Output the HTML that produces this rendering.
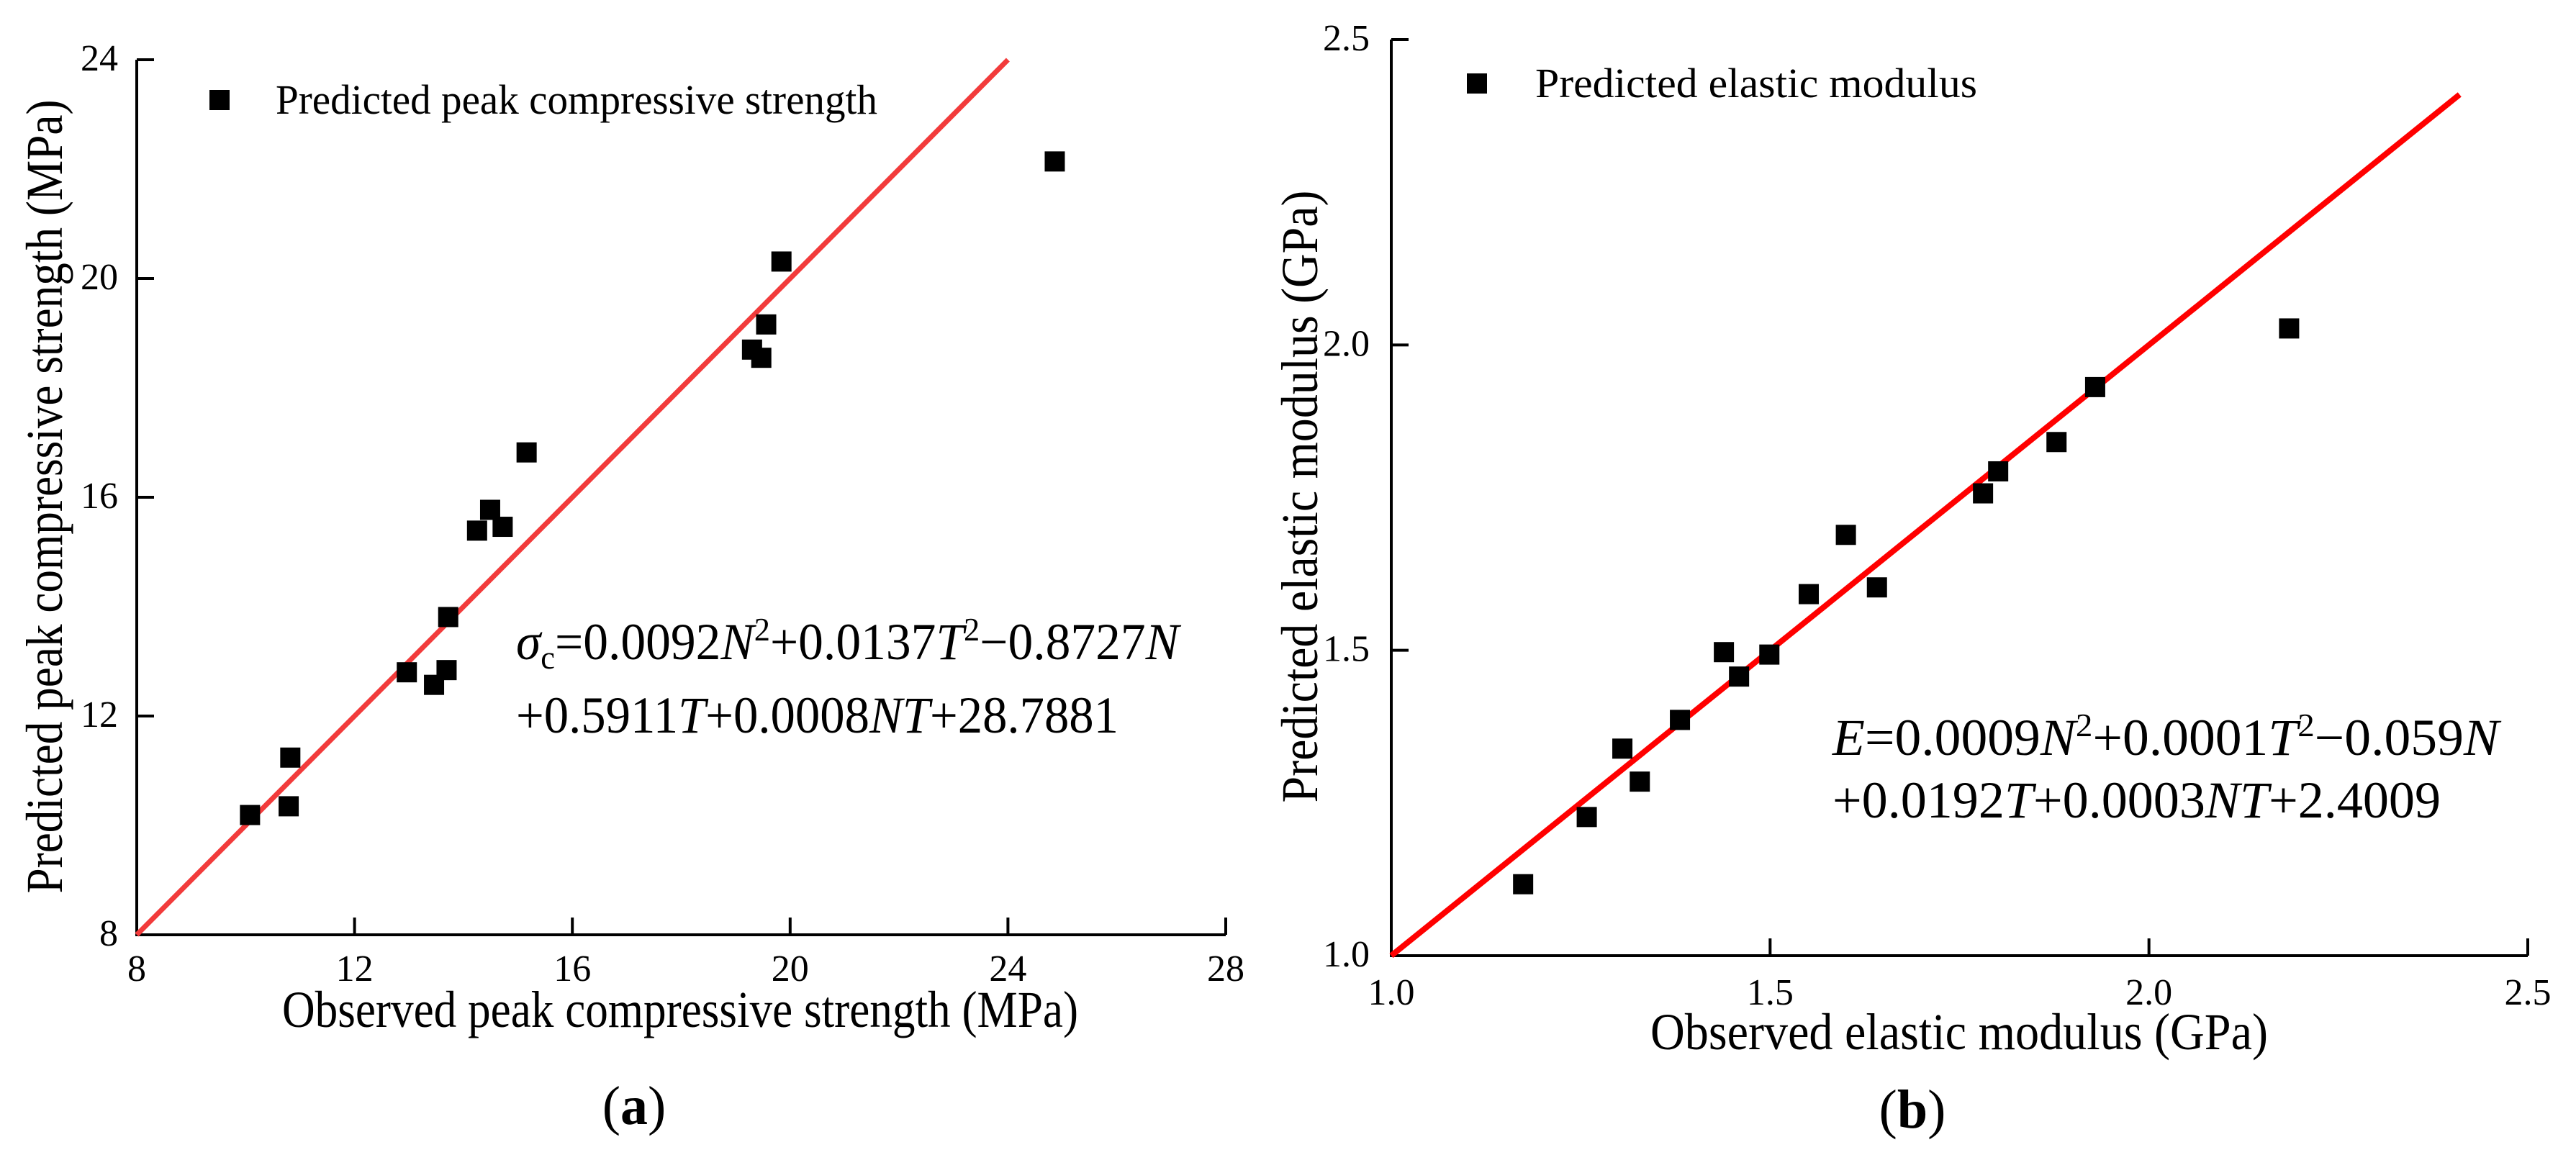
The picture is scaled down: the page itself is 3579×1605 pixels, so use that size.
<!DOCTYPE html>
<html><head><meta charset="utf-8"><style>
html,body{margin:0;padding:0;background:#fff;}
svg{display:block;font-family:"Liberation Serif",serif;}
</style></head><body>
<svg id="fig" width="3579" height="1605" viewBox="0 0 3579 1605" xmlns="http://www.w3.org/2000/svg">
<g id="chartA"></g>
<g id="chartB"></g>
</svg>
<script>
// Chart (a) data
const aObserved = [10.08,10.79,10.82,12.96,13.46,13.69,13.72,14.25,14.49,14.72,15.16,19.30,19.47,19.56,19.84,24.86];
const aPredicted = [10.19,10.35,11.24,12.80,12.57,12.84,13.81,15.39,15.77,15.46,16.82,18.70,18.55,19.16,20.31,22.14];
const aTicks = [8,12,16,20,24,28];
const aYTicks = [8,12,16,20,24];
const aLine = [8,24];
// Chart (b) data
const bObserved = [1.174,1.258,1.305,1.328,1.381,1.439,1.459,1.499,1.551,1.600,1.641,1.781,1.801,1.878,1.929,2.185];
const bPredicted = [1.117,1.227,1.339,1.285,1.386,1.497,1.457,1.493,1.592,1.689,1.603,1.757,1.793,1.841,1.931,2.027];
const bTicks = [1.0,1.5,2.0,2.5];
const bTickLabels = ["1.0","1.5","2.0","2.5"];
const bLine = [1.0,2.41];

const NS="http://www.w3.org/2000/svg";
function mk(tag,attrs,parent){const e=document.createElementNS(NS,tag);for(const k in attrs)e.setAttribute(k,attrs[k]);parent.appendChild(e);return e;}

function drawChart(g,cfg){
  const sx=v=>cfg.x0+(v-cfg.xmin)/(cfg.xmax-cfg.xmin)*(cfg.x1-cfg.x0);
  const sy=v=>cfg.y0-(v-cfg.ymin)/(cfg.ymax-cfg.ymin)*(cfg.y0-cfg.y1);
  const ax=mk('path',{d:`M${cfg.x0},${cfg.y1} L${cfg.x0},${cfg.y0} L${cfg.x1},${cfg.y0}`,fill:'none',stroke:'#000','stroke-width':4},g);
  
  
  cfg.xticks.forEach((t,i)=>{
    const x=sx(t);
    const tk=mk('line',{x1:x,y1:cfg.y0,x2:x,y2:cfg.y0-24,stroke:'#000','stroke-width':4},g);
    
    
    const tl=mk('text',{x:x,y:cfg.xlabY,'text-anchor':'middle','font-size':52},g);
    tl.textContent=cfg.xlabels[i];
    
    
  });
  cfg.yticks.forEach((t,i)=>{
    const y=sy(t);
    const tk=mk('line',{x1:cfg.x0,y1:y,x2:cfg.x0+24,y2:y,stroke:'#000','stroke-width':4},g);
    
    
    const tl=mk('text',{x:cfg.ylabX,y:y+15,'text-anchor':'end','font-size':52},g);
    tl.textContent=cfg.ylabels[i];
    
    
  });
  const ln=mk('line',{x1:sx(cfg.line[0]),y1:sy(cfg.line[0]),x2:sx(cfg.line[1]),y2:sy(cfg.line[1]),stroke:cfg.lineColor,'stroke-width':cfg.lineW},g);
  
  
  cfg.xs.forEach((v,i)=>{
    const p=mk('rect',{x:sx(v)-14,y:sy(cfg.ys[i])-14,width:28,height:28,fill:'#000'},g);
    
    
  });
}

drawChart(document.getElementById('chartA'),{x0:190,x1:1703,y0:1299,y1:83,xmin:8,xmax:28,ymin:8,ymax:24,
  xticks:aTicks,xlabels:aTicks.map(String),yticks:aYTicks,ylabels:aYTicks.map(String),
  xlabY:1363,ylabX:164,line:aLine,lineColor:'#f23b3b',lineW:7,xs:aObserved,ys:aPredicted});
drawChart(document.getElementById('chartB'),{x0:1933,x1:3512,y0:1328,y1:55,xmin:1,xmax:2.5,ymin:1,ymax:2.5,
  xticks:bTicks,xlabels:bTickLabels,yticks:bTicks,ylabels:bTickLabels,
  xlabY:1396,ylabX:1903,line:bLine,lineColor:'#ff0000',lineW:8,xs:bObserved,ys:bPredicted});
</script>
<script>
const svg=document.getElementById('fig');
const extra=`
<g>
 <rect x="291" y="125" width="28" height="28" fill="#000"/>
 <text x="383" y="158" font-size="58" textLength="836" lengthAdjust="spacingAndGlyphs">Predicted peak compressive strength</text>
</g>
<text x="392" y="1427" font-size="72" textLength="1106" lengthAdjust="spacingAndGlyphs">Observed peak compressive strength (MPa)</text>
<text transform="translate(86,690) rotate(-90)" text-anchor="middle" font-size="72" textLength="1103" lengthAdjust="spacingAndGlyphs">Predicted peak compressive strength (MPa)</text>
<text x="717" y="916" font-size="72" textLength="921" lengthAdjust="spacingAndGlyphs"><tspan font-style="italic">σ</tspan><tspan font-size="46" dy="13">c</tspan><tspan dy="-13">=0.0092</tspan><tspan font-style="italic">N</tspan><tspan font-size="46" dy="-26">2</tspan><tspan dy="26">+0.0137</tspan><tspan font-style="italic">T</tspan><tspan font-size="46" dy="-26">2</tspan><tspan dy="26">−0.8727</tspan><tspan font-style="italic">N</tspan></text>
<text x="717" y="1018" font-size="72" textLength="837" lengthAdjust="spacingAndGlyphs">+0.5911<tspan font-style="italic">T</tspan>+0.0008<tspan font-style="italic">NT</tspan>+28.7881</text>
<text x="881" y="1562" text-anchor="middle" font-size="76">(<tspan font-weight="bold">a</tspan>)</text>

<g>
 <rect x="2038" y="102" width="28" height="28" fill="#000"/>
 <text x="2133" y="135" font-size="58" textLength="614" lengthAdjust="spacingAndGlyphs">Predicted elastic modulus</text>
</g>
<text x="2293" y="1458" font-size="72" textLength="858" lengthAdjust="spacingAndGlyphs">Observed elastic modulus (GPa)</text>
<text transform="translate(1830,690) rotate(-90)" text-anchor="middle" font-size="72" textLength="851" lengthAdjust="spacingAndGlyphs">Predicted elastic modulus (GPa)</text>
<text x="2546" y="1049" font-size="72" textLength="926" lengthAdjust="spacingAndGlyphs"><tspan font-style="italic">E</tspan>=0.0009<tspan font-style="italic">N</tspan><tspan font-size="46" dy="-26">2</tspan><tspan dy="26">+0.0001</tspan><tspan font-style="italic">T</tspan><tspan font-size="46" dy="-26">2</tspan><tspan dy="26">−0.059</tspan><tspan font-style="italic">N</tspan></text>
<text x="2546" y="1136" font-size="72" textLength="845" lengthAdjust="spacingAndGlyphs">+0.0192<tspan font-style="italic">T</tspan>+0.0003<tspan font-style="italic">NT</tspan>+2.4009</text>
<text x="2657" y="1567" text-anchor="middle" font-size="76">(<tspan font-weight="bold">b</tspan>)</text>`;
svg.insertAdjacentHTML('beforeend',extra);
</script>
</body></html>
